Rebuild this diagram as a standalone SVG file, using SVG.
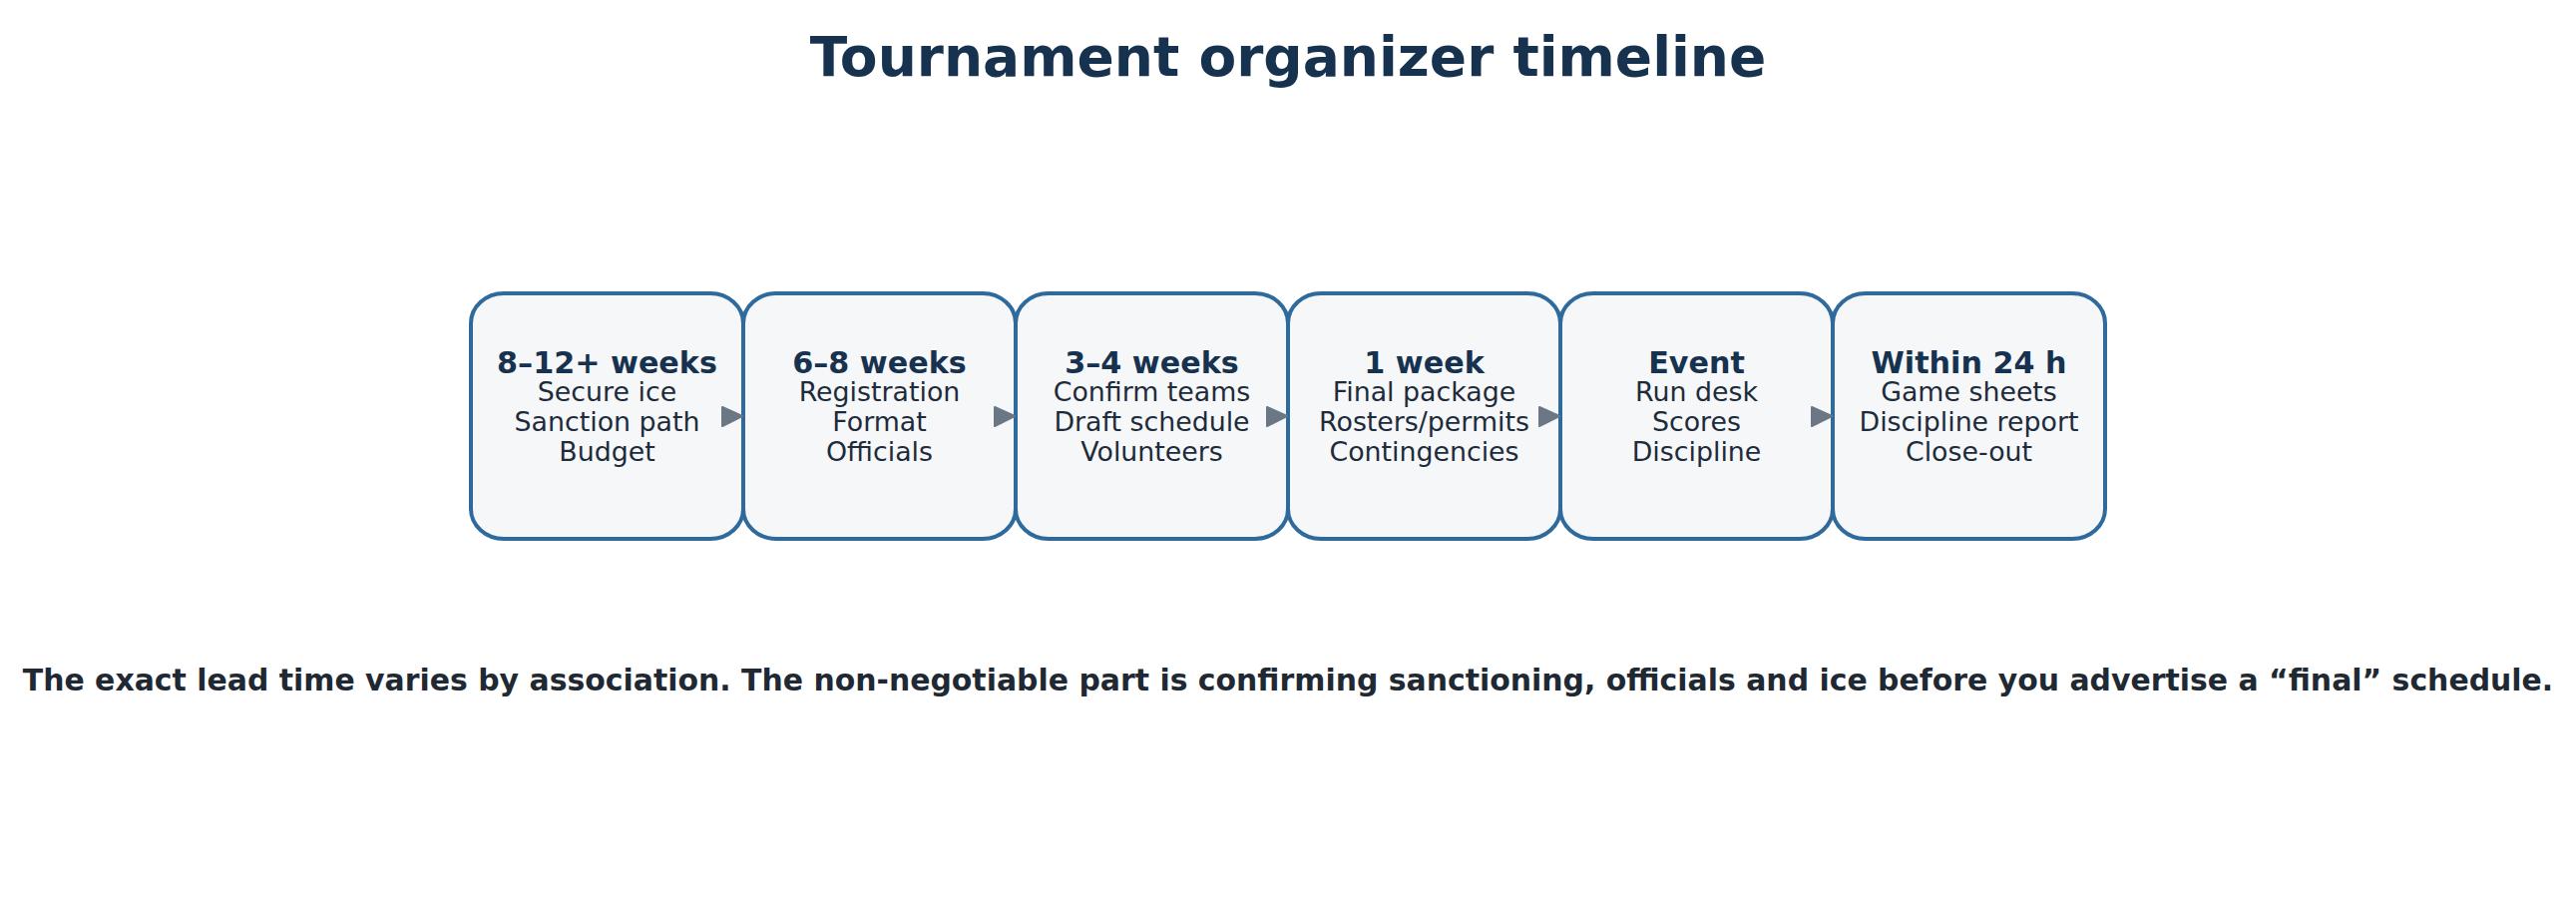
<svg xmlns="http://www.w3.org/2000/svg" width="2582" height="924" viewBox="0 0 2582 924">
<style>
text{font-family:"DejaVu Sans","Liberation Sans",sans-serif;text-anchor:middle}
.title{font-size:55px;font-weight:bold;fill:#17324f}
.head{font-size:30.2px;font-weight:bold;fill:#17324f}
.line{font-size:26.8px;fill:#1e2b3a}
.note{font-size:29.9px;font-weight:bold;fill:#1f2933}
.box{fill:#f5f7f9;stroke:#2f6a9c;stroke-width:4}
.arrow{fill:#6b7785;stroke:#6b7785;stroke-width:2;stroke-linejoin:round}
</style>
<rect width="2582" height="924" fill="#ffffff"/>
<text class="title" x="1291" y="76">Tournament organizer timeline</text>
<g id="node1">
<rect class="box" x="472" y="294" width="273" height="246" rx="33" ry="30"/>
<text class="head" x="608.5" y="374">8–12+ weeks</text>
<text class="line" x="608.5" y="401.7">Secure ice</text>
<text class="line" x="608.5" y="431.7">Sanction path</text>
<text class="line" x="608.5" y="461.7">Budget</text>
</g>
<g id="node2">
<rect class="box" x="745" y="294" width="273" height="246" rx="33" ry="30"/>
<text class="head" x="881.5" y="374">6–8 weeks</text>
<text class="line" x="881.5" y="401.7">Registration</text>
<text class="line" x="881.5" y="431.7">Format</text>
<text class="line" x="881.5" y="461.7">Officials</text>
</g>
<g id="node3">
<rect class="box" x="1018" y="294" width="273" height="246" rx="33" ry="30"/>
<text class="head" x="1154.5" y="374">3–4 weeks</text>
<text class="line" x="1154.5" y="401.7">Confirm teams</text>
<text class="line" x="1154.5" y="431.7">Draft schedule</text>
<text class="line" x="1154.5" y="461.7">Volunteers</text>
</g>
<g id="node4">
<rect class="box" x="1291" y="294" width="273" height="246" rx="33" ry="30"/>
<text class="head" x="1427.5" y="374">1 week</text>
<text class="line" x="1427.5" y="401.7">Final package</text>
<text class="line" x="1427.5" y="431.7">Rosters/permits</text>
<text class="line" x="1427.5" y="461.7">Contingencies</text>
</g>
<g id="node5">
<rect class="box" x="1564" y="294" width="273" height="246" rx="33" ry="30"/>
<text class="head" x="1700.5" y="374">Event</text>
<text class="line" x="1700.5" y="401.7">Run desk</text>
<text class="line" x="1700.5" y="431.7">Scores</text>
<text class="line" x="1700.5" y="461.7">Discipline</text>
</g>
<g id="node6">
<rect class="box" x="1837" y="294" width="273" height="246" rx="33" ry="30"/>
<text class="head" x="1973.5" y="374">Within 24 h</text>
<text class="line" x="1973.5" y="401.7">Game sheets</text>
<text class="line" x="1973.5" y="431.7">Discipline report</text>
<text class="line" x="1973.5" y="461.7">Close-out</text>
</g>
<g id="connectors">
<path class="arrow" d="M724 408 L744 417 L724 427 Z"/>
<path class="arrow" d="M997 408 L1017 417 L997 427 Z"/>
<path class="arrow" d="M1270 408 L1290 417 L1270 427 Z"/>
<path class="arrow" d="M1543 408 L1563 417 L1543 427 Z"/>
<path class="arrow" d="M1816 408 L1836 417 L1816 427 Z"/>
</g>
<text class="note" x="1291" y="691.7">The exact lead time varies by association. The non-negotiable part is confirming sanctioning, officials and ice before you advertise a “final” schedule.</text>
</svg>
